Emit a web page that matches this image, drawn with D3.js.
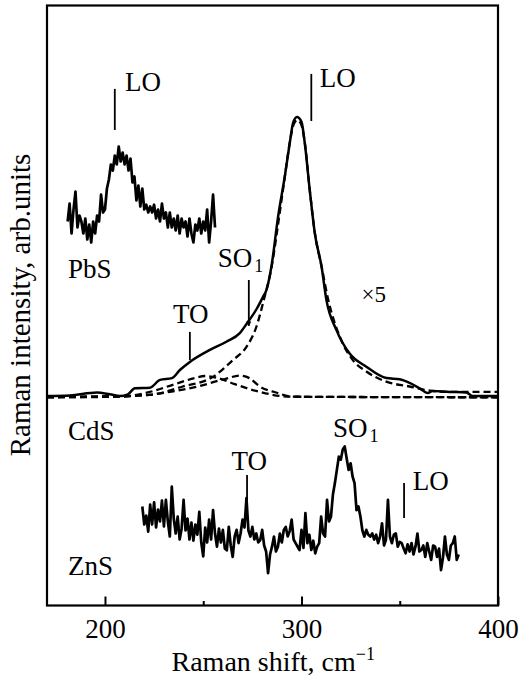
<!DOCTYPE html>
<html><head><meta charset="utf-8">
<script src="https://cdn.jsdelivr.net/npm/d3@7"></script>
<style>
body{margin:0;background:#fff;}
svg text{font-family:"Liberation Serif","Tinos","Times New Roman","Nimbus Roman","DejaVu Serif","Noto Serif",serif !important;fill:#000;}
</style>
</head><body>
<svg id="c" width="520" height="679"></svg>
<script>
// ---- data (Raman shift in cm^-1, intensity in arb. units with vertical offsets) ----
const pbsStart = 181;   // PbS spectrum, 1 cm^-1 step
const pbsValues = [64,67,62,66,69,63,65,64,62,64.5, 61,63.5,60.5,64,62,65,64,68.5,65.5,66,
  69.5,71,73.5,72.5,75,73.5,76.5,74,75.5,73.5, 75,72.5,74.5,70.5,71.5,67.5,70,66.5,69.5,66,
  66.8,65.5,66.5,65.5,66.8,64.5,66,64,67,64.5, 65.5,63,65.5,63,64.5,62.5,65,62,64.5,63,
  64,61.5,64.5,62,60.5,63.5,62.5,64.5,62,64, 62.5,66,60.5,64,68.5,63];

const znsStart = 219;   // ZnS spectrum, 1 cm^-1 step
const znsValues = [16.5,13.5,15.0,12.3,16.8,13.5,17.2,13.0,16.0,14.0,
  17.5,13.2,17.6,14.0,11.5,19.8,14.5,12.0,14.8,11.0,
  12.8,17.6,12.5,14.5,11.0,13.8,10.8,13.5,11.8,15.6,
  10.5,8.2,13.0,10.5,14.3,11.0,15.9,12.0,9.8,12.8,
  10.5,12.6,9.5,9.2,13.1,10.0,8.1,11.5,12.6,10.4,
  12.0,14.3,13.0,17.9,12.5,11.5,13.1,11.0,12.0,10.5,
  10.9,12.6,10.0,9.0,5.4,8.5,9.8,11.5,9.0,9.8,
  12.0,10.5,12.6,13.1,11.5,12.4,14.3,11.0,10.4,9.8,
  9.25,12.6,9.6,15.4,10.4,11.8,9.25,10.8,8.7,9.8,
  10.4,14.8,12.0,11.5,17.6,14.0,14.8,18.5,20.4,22.6,
  24.8,24.3,26.0,26.5,24.5,22.6,23.7,21.5,20.4,15.9,
  16.5,14.8,12.5,11.5,12.6,11.8,11.5,12.0,11.0,11.8,
  10.4,11.5,13.7,10.0,11.0,17.6,11.5,10.4,11.8,12.0,
  9.8,10.6,10.4,9.5,8.7,10.2,9.0,10.4,8.5,9.8,
  12.0,9.0,9.25,10.0,8.1,10.4,9.0,7.6,10.0,9.8,
  8.1,9.5,5.9,8.0,11.5,8.5,7.6,10.0,10.4,11.5,
  7.6,8.5];

// CdS measured spectrum (x5)
const cdsShift = [170.5,182.2,195.9,202.5,207.6,211.7,215.2,222.9,228.0,234.1,238.1,243.2,253.4,262.0,268.6,272.2,277.3,280.5,282.2,284.7,288.1,291.5,294.0,295.7,297.7,300.0,301.7,304.2,306.8,310.2,312.7,317.8,324.5,333.0,343.2,350.0,355.0,360.1,364.3,366.7,375.4,383.9,387.1,399.6];
const cdsIntensity = [34.9,35.0,35.5,35.2,34.9,35.2,36.2,36.3,37.6,37.9,39.25,40.6,42.6,44.0,45.4,47.0,49.5,51.5,52.6,56.5,64.8,71.5,77.0,80.4,81.4,80.6,77.0,69.25,62.0,56.5,50.9,45.9,42.0,39.8,37.9,37.7,37.1,36.2,35.4,35.75,35.6,35.5,34.9,34.9];

// fitted components (dashed)
const fitLOShift = [170.5,207.6,222.9,239.6,254.9,265.1,272.0,277.1,280.8,284.9,288.4,291.5,294.0,296.1,297.9,299.6,301.7,304.2,306.8,310.3,313.4,319.5,326.1,333.0,343.2,355.0,363.5,375.4,399.6];
const fitLOValue = [34.8,34.9,35.1,36.5,38.1,40.9,43.1,46.5,50.9,56.6,64.25,71.4,77.1,80.25,80.9,80.4,77.1,69.25,62.1,56.4,51.25,44.8,40.9,39.0,37.3,36.5,35.9,35.6,35.6];
const fitTOShift = [170.5,207.6,222.9,235.6,245.7,250.8,257.4,266.0,278.8,294.0,399.6];
const fitTOValue = [34.7,34.8,35.6,36.9,37.9,38.25,37.9,36.9,35.6,34.8,34.7];
const fitSOShift = [170.5,212.7,233.0,248.3,261.0,268.6,273.5,278.8,287.0,295.6,399.6];
const fitSOValue = [34.7,34.9,35.6,36.6,37.75,38.3,37.9,36.5,35.5,34.8,34.7];

// axis ticks
const majorTicks = [200, 300, 400];
const minorTicks = [250, 350];

// annotation marks: [shift, intensity from, intensity to]
const markLines = [[205, 86.1, 79.25],[305, 88.6, 80.75],[243.2, 45.6, 40.9],[272.3, 21.75, 17.6],[352.2, 20.4, 14.6]];
const markArrow = [273.2, 54.25, 46.6];
// labels: [text, subscript, shift, intensity, size]
const labels = [
  ["LO","",210.2,85.75,27],["LO","",309.3,86.4,27],["TO","",234.6,47.1,27],["SO","1",257.4,56.4,27],
  ["×5","",330.5,50.6,23],["PbS","",181.2,54.6,27],["CdS","",181.2,27.6,27],["ZnS","",181.2,5.1,27],
  ["TO","",264.4,22.6,27],["SO","1",316.0,28.1,27],["LO","",356.6,19.25,27]
];

// ---- drawing ----
const FONT = '"Liberation Serif","Tinos","Times New Roman","Nimbus Roman","DejaVu Serif","Noto Serif",serif';
const svg = d3.select("#c").attr("font-family", FONT);
const L = 47, R = 498, T = 5.5, B = 605.5;
const x = d3.scaleLinear().domain([170.5, 400]).range([L, R]);
const y = d3.scaleLinear().domain([0, 100]).range([B, T]);

const defs = svg.append("defs");
defs.append("marker").attr("id","ah").attr("viewBox","0 0 10 10").attr("refX",9).attr("refY",5)
  .attr("markerWidth",5).attr("markerHeight",7).attr("orient","auto").attr("markerUnits","userSpaceOnUse")
  .append("path").attr("d","M0,0 L10,5 L0,10 z").attr("fill","#000");

const lineXY = d3.line().x(d => x(d[0])).y(d => y(d[1]));

// noisy spectra
const pbs = pbsValues.map((v,i) => [pbsStart + i, v]);
const zns = znsValues.map((v,i) => [znsStart + i, v]);
[pbs, zns].forEach(s => svg.append("path").datum(s).attr("d", lineXY)
  .attr("fill","none").attr("stroke","#000").attr("stroke-width",2.7).attr("stroke-linejoin","round"));

// fits (dashed)
const smooth = d3.line().x(d => x(d[0])).y(d => y(d[1])).curve(d3.curveMonotoneX);
[[fitLOShift,fitLOValue],[fitTOShift,fitTOValue],[fitSOShift,fitSOValue]].forEach(([s,v]) => {
  svg.append("path").datum(s.map((xx,i)=>[xx,v[i]])).attr("d", smooth)
    .attr("fill","none").attr("stroke","#000").attr("stroke-width",2.3).attr("stroke-dasharray","7,4");
});
// CdS measured
svg.append("path").datum(cdsShift.map((xx,i)=>[xx,cdsIntensity[i]])).attr("d", smooth)
  .attr("fill","none").attr("stroke","#000").attr("stroke-width",2.5);

// frame
svg.append("rect").attr("x",L).attr("y",T).attr("width",R-L).attr("height",B-T)
  .attr("fill","none").attr("stroke","#000").attr("stroke-width",2.2);

// x axis
const ax = svg.append("g").attr("transform",`translate(0,${B})`)
  .call(d3.axisBottom(x).tickValues(majorTicks).tickSize(-9).tickPadding(13).tickFormat(d3.format("d")));
ax.attr("font-family", FONT);
ax.select(".domain").remove();
ax.selectAll("line").attr("stroke","#000").attr("stroke-width",2);
ax.selectAll("text").attr("font-size",27).attr("fill","#000");
const axm = svg.append("g").attr("transform",`translate(0,${B})`)
  .call(d3.axisBottom(x).tickValues(minorTicks).tickSize(-4.5).tickFormat(""));
axm.select(".domain").remove();
axm.selectAll("line").attr("stroke","#000").attr("stroke-width",2);

// annotations
markLines.forEach(m => svg.append("line").attr("x1",x(m[0])).attr("x2",x(m[0]))
  .attr("y1",y(m[1])).attr("y2",y(m[2])).attr("stroke","#000").attr("stroke-width",1.8));
svg.append("line").attr("x1",x(markArrow[0])).attr("x2",x(markArrow[0]))
  .attr("y1",y(markArrow[1])).attr("y2",y(markArrow[2])).attr("stroke","#000").attr("stroke-width",1.8)
  .attr("marker-end","url(#ah)");

labels.forEach(([t,sub,sx,sv,fs]) => {
  const tx = svg.append("text").attr("x",x(sx)).attr("y",y(sv)).attr("font-size",fs).text(t);
  if (sub) tx.append("tspan").attr("font-size",18).attr("dy",5).attr("dx",2).text(sub);
});

// axis titles
const xt = svg.append("text").attr("x",171.5).attr("y",671).attr("font-size",28).text("Raman shift, cm");
xt.append("tspan").attr("font-size",18).attr("dy",-11).text("−1");
svg.append("text").attr("transform","translate(30,305) rotate(-90)").attr("text-anchor","middle")
  .attr("font-size",29).text("Raman intensity, arb.units");
</script>
</body></html>
